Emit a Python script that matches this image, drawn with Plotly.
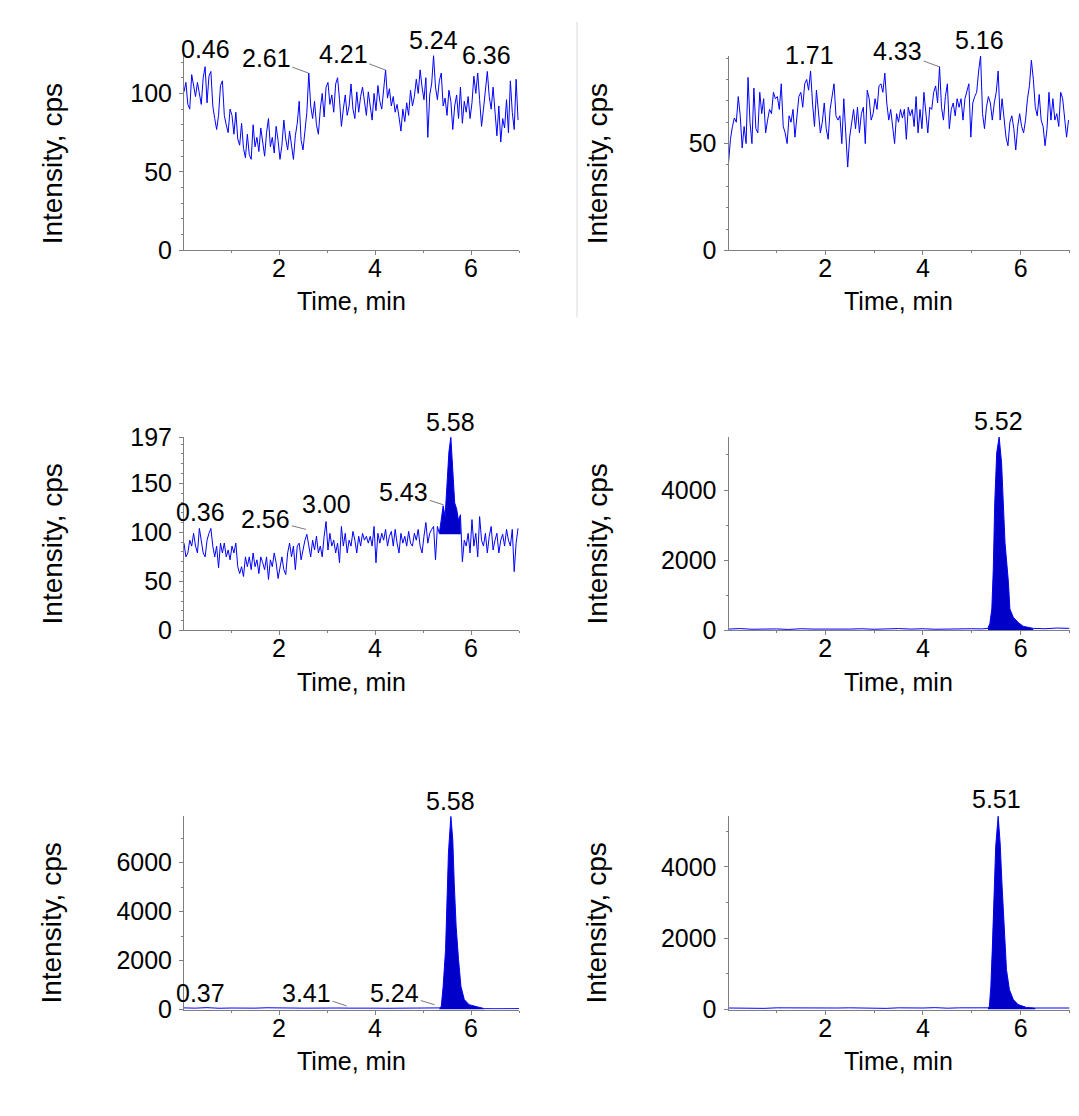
import plotly.graph_objects as go

FONT = "Liberation Sans, Arial, sans-serif"
LINE_BLUE = "#0000FF"
FILL_BLUE = "#0000C8"
AXIS_GRAY = "#808080"

# ---------------- data ----------------
# noisy traces sampled every 0.04 min starting at 0.02 min (10 values per row = 0.4 min)
T0 = 0.02
DT = 0.04

P1_INTENSITY = [
    101, 107, 93, 90, 112, 104, 98, 107, 99, 93,
    110, 117, 94, 111, 114, 92, 84, 77, 86, 105,
    108, 86, 80, 75, 90, 86, 74, 88, 71, 67,
    81, 65, 59, 74, 61, 58, 80, 66, 72, 63,
    78, 68, 60, 75, 84, 66, 72, 62, 79, 70,
    58, 67, 83, 71, 64, 76, 68, 58, 73, 81,
    95, 70, 64, 78, 88, 113, 92, 84, 95, 80,
    74, 90, 100, 85, 104, 107, 93, 99, 88, 106,
    110, 96, 79, 90, 99, 86, 92, 106, 90, 84,
    101, 88, 98, 104, 95, 86, 101, 92, 83, 100,
    89, 105, 95, 90, 101, 115, 97, 103, 92, 98,
    88, 93, 85, 76, 90, 82, 94, 86, 102, 92,
    98, 109, 100, 115, 104, 96, 110, 72, 99, 106,
    124, 104, 96, 108, 113, 92, 97, 86, 102, 95,
    77, 92, 99, 84, 104, 81, 95, 88, 98, 84,
    94, 111, 100, 113, 96, 79, 90, 103, 114, 98,
    90, 104, 85, 73, 92, 69, 84, 78, 96, 75,
    108, 88, 77, 109, 83,
]

P2_INTENSITY = [
    41, 52, 58, 62, 60, 72, 63, 48, 58, 50,
    81, 60, 50, 76, 57, 55, 74, 64, 71, 55,
    61, 66, 64, 74, 71, 72, 66, 78, 58, 55,
    50, 63, 60, 66, 53, 61, 72, 74, 67, 78,
    80, 75, 84, 69, 58, 75, 66, 55, 60, 69,
    57, 52, 66, 72, 78, 63, 61, 63, 50, 71,
    53, 39, 53, 61, 66, 57, 67, 55, 64, 67,
    50, 75, 71, 61, 64, 71, 66, 77, 78, 74,
    83, 69, 61, 66, 58, 50, 64, 60, 66, 62,
    66, 52, 67, 63, 66, 58, 72, 55, 66, 57,
    74, 63, 55, 67, 66, 74, 77, 69, 86, 67,
    61, 72, 78, 57, 66, 69, 63, 71, 67, 71,
    61, 71, 75, 78, 53, 69, 72, 74, 84, 91,
    64, 57, 67, 72, 69, 61, 69, 74, 84, 61,
    71, 63, 53, 49, 60, 63, 57, 47, 58, 64,
    58, 55, 61, 71, 77, 89, 80, 67, 63, 73,
    61, 58, 49, 57, 74, 61, 71, 61, 64, 58,
    74, 71, 61, 53, 61,
]

P3_INTENSITY = [
    89, 75, 79, 92, 86, 99, 86, 79, 104, 93,
    79, 75, 92, 99, 104, 86, 75, 86, 64, 89,
    79, 89, 75, 82, 72, 86, 79, 89, 65, 58,
    65, 55, 75, 65, 75, 62, 79, 65, 72, 58,
    75, 69, 62, 75, 52, 72, 65, 79, 69, 53,
    65, 75, 62, 57, 79, 89, 75, 86, 62, 86,
    89, 72, 82, 92, 98, 86, 75, 92, 82, 96,
    79, 86, 75, 96, 111, 82, 99, 86, 92, 79,
    89, 69, 106, 86, 99, 79, 92, 86, 101, 92,
    79, 96, 86, 99, 92, 96, 89, 96, 86, 106,
    69, 99, 89, 99, 92, 103, 86, 96, 101, 86,
    103, 89, 79, 99, 89, 96, 86, 101, 89, 86,
    99, 92, 103, 86, 79, 96, 110, 89, 99, 103,
    106, 72, 106, 99, 112, 127, 116, 150, 182, 197,
    165, 130, 124, 112, 118, 70, 92, 86, 99, 79,
    113, 86, 99, 75, 116, 92, 86, 99, 79, 96,
    106, 82, 92, 99, 79, 92, 98, 86, 103, 92,
    86, 103, 60, 89, 104,
]
P3_PEAK_START = 5.34
P3_PEAK_END = 5.79
P3_PEAK_BASE = 98

# peak chromatograms (explicit time / intensity)
P4_TIME = [0.02, 0.25, 0.5, 0.75, 1.0, 1.25, 1.5, 1.75, 2.0, 2.25, 2.5, 2.75, 3.0,
           3.25, 3.5, 3.75, 4.0, 4.25, 4.5, 4.75, 5.0, 5.2, 5.33, 5.37, 5.41, 5.44,
           5.47, 5.51, 5.56, 5.61, 5.64, 5.68, 5.75, 5.78, 5.85, 5.95, 6.05, 6.26,
           6.5, 6.75, 7.0]
P4_INTENSITY = [40, 55, 35, 50, 45, 30, 50, 40, 35, 45, 40, 50, 35,
                45, 55, 40, 50, 35, 45, 40, 50, 45, 60, 200, 610, 1745,
                3640, 5060, 5510, 4770, 3730, 2500, 1370, 610, 375, 230, 120, 60,
                50, 70, 60]

P5_TIME = [0.02, 0.25, 0.5, 0.75, 1.0, 1.25, 1.5, 1.75, 2.0, 2.25, 2.5, 2.75, 3.0,
           3.25, 3.5, 3.75, 4.0, 4.25, 4.5, 4.75, 5.0, 5.2, 5.34, 5.38, 5.42, 5.47,
           5.50, 5.53, 5.58, 5.62, 5.65, 5.69, 5.74, 5.79, 5.86, 5.96, 6.14, 6.28,
           6.5, 6.75, 7.0]
P5_INTENSITY = [70, 60, 80, 55, 65, 50, 60, 75, 55, 65, 60, 70, 55,
                65, 60, 70, 60, 55, 65, 60, 70, 65, 70, 120, 950, 2450,
                4490, 6400, 7890, 6940, 5170, 3400, 2040, 950, 410, 200, 110, 40,
                35, 45, 40]

P6_TIME = [0.02, 0.25, 0.5, 0.75, 1.0, 1.25, 1.5, 1.75, 2.0, 2.25, 2.5, 2.75, 3.0,
           3.25, 3.5, 3.75, 4.0, 4.25, 4.5, 4.75, 5.0, 5.2, 5.33, 5.36, 5.39, 5.42,
           5.45, 5.49, 5.54, 5.58, 5.62, 5.66, 5.71, 5.77, 5.85, 5.95, 6.12, 6.3,
           6.5, 6.75, 7.0]
P6_INTENSITY = [45, 40, 55, 35, 50, 45, 40, 50, 35, 45, 50, 40, 45,
                35, 50, 40, 45, 55, 40, 50, 45, 40, 50, 90, 650, 1680,
                3080, 4580, 5420, 4670, 3460, 2240, 1120, 560, 280, 140, 60, 45,
                40, 50, 45]
PEAK_START = 5.3
PEAK_END = 6.3

# peak labels
P1_LABEL_TEXT = ["0.46", "2.61", "4.21", "5.24", "6.36"]
P1_LABEL_TIME = [0.46, 2.61, 4.21, 5.24, 6.36]
P1_LABEL_INT = [117, 113, 115, 124, 114]
P2_LABEL_TEXT = ["1.71", "4.33", "5.16"]
P2_LABEL_TIME = [1.71, 4.33, 5.16]
P2_LABEL_INT = [84, 86, 91]
P3_LABEL_TEXT = ["0.36", "2.56", "3.00", "5.43", "5.58"]
P3_LABEL_TIME = [0.36, 2.56, 3.00, 5.43, 5.58]
P3_LABEL_INT = [104, 103, 111, 128, 197]
P4_LABEL_TEXT = ["5.52"]
P4_LABEL_TIME = [5.52]
P4_LABEL_INT = [5510]
P5_LABEL_TEXT = ["0.37", "3.41", "5.24", "5.58"]
P5_LABEL_TIME = [0.37, 3.41, 5.24, 5.58]
P5_LABEL_INT = [60, 150, 200, 7890]
P6_LABEL_TEXT = ["5.51"]
P6_LABEL_TIME = [5.51]
P6_LABEL_INT = [5420]

X_TICKS = [2, 4, 6]
X_MINOR = [1, 3, 5, 7]

# ---------------- styling / layout ----------------
# label placement: ("up", xshift, yshift) or ("lead", ax, ay) in target pixels
P1_LABEL_POS = [("up", 0, 17), ("lead", -42, -15), ("lead", -42, -15.5), ("up", -1.5, 15.5), ("up", -2, 16)]
P2_LABEL_POS = [("up", -1.5, 16), ("lead", -41.5, -15), ("up", -0.5, 16)]
P3_LABEL_POS = [("up", 0.5, 16), ("lead", -40, -10), ("up", -0.5, 17), ("lead", -40, -12.5), ("up", 0, 15)]
P4_LABEL_POS = [("up", 1.7, 15.6)]
P5_LABEL_POS = [("up", -0.4, 15.2), ("lead", -40, -13), ("lead", -39.8, -11.8), ("up", 0, 14.7)]
P6_LABEL_POS = [("up", 0, 16.4)]

# observed placement of the figure inside the photographed window
PAGE_DX, PAGE_DY, PAGE_SY = 8, 22.7, 0.974
W, H = 1063, 1090


def px_x(x):
    return (x - PAGE_DX) / W


def px_y(y):
    return 1 - ((y - PAGE_DY) / PAGE_SY) / H


COL_X = [(px_x(184), px_x(519)), (px_x(728.5), px_x(1069.5))]


def ydom(bottom_px, top_px):
    return [px_y(bottom_px), px_y(top_px)]


def grid_times(vals):
    return [round(T0 + DT * i, 4) for i in range(len(vals))]


panels = [
    dict(t=grid_times(P1_INTENSITY), v=P1_INTENSITY, col=0, ydomain=ydom(251, 53.3),
         yrange=[0, 126], ytickvals=[0, 50, 100], yminor=10,
         labels=(P1_LABEL_TEXT, P1_LABEL_TIME, P1_LABEL_INT, P1_LABEL_POS), fill=None),
    dict(t=grid_times(P2_INTENSITY), v=P2_INTENSITY, col=1, ydomain=ydom(251, 56.7),
         yrange=[0, 91], ytickvals=[0, 50], yminor=10,
         labels=(P2_LABEL_TEXT, P2_LABEL_TIME, P2_LABEL_INT, P2_LABEL_POS), fill=None),
    dict(t=grid_times(P3_INTENSITY), v=P3_INTENSITY, col=0, ydomain=ydom(631, 437.7),
         yrange=[0, 197], ytickvals=[0, 50, 100, 150, 197], yminor=10,
         labels=(P3_LABEL_TEXT, P3_LABEL_TIME, P3_LABEL_INT, P3_LABEL_POS), fill="base"),
    dict(t=P4_TIME, v=P4_INTENSITY, col=1, ydomain=ydom(631, 437.3),
         yrange=[0, 5520], ytickvals=[0, 2000, 4000], yminor=1000,
         labels=(P4_LABEL_TEXT, P4_LABEL_TIME, P4_LABEL_INT, P4_LABEL_POS), fill="zero"),
    dict(t=P5_TIME, v=P5_INTENSITY, col=0, ydomain=ydom(1010, 816.7),
         yrange=[0, 7890], ytickvals=[0, 2000, 4000, 6000], yminor=1000,
         labels=(P5_LABEL_TEXT, P5_LABEL_TIME, P5_LABEL_INT, P5_LABEL_POS), fill="zero"),
    dict(t=P6_TIME, v=P6_INTENSITY, col=1, ydomain=ydom(1010, 816),
         yrange=[0, 5440], ytickvals=[0, 2000, 4000], yminor=1000,
         labels=(P6_LABEL_TEXT, P6_LABEL_TIME, P6_LABEL_INT, P6_LABEL_POS), fill="zero"),
]

fig = go.Figure()
layout = dict(
    width=W, height=H, autosize=False,
    margin=dict(l=0, r=0, t=0, b=0, pad=0),
    paper_bgcolor="white", plot_bgcolor="white",
    showlegend=False,
    font=dict(family=FONT, size=25, color="black"),
)
annotations = []

tickfont = dict(family=FONT, size=25, color="black")

for k, p in enumerate(panels, start=1):
    xref = "x" if k == 1 else f"x{k}"
    yref = "y" if k == 1 else f"y{k}"
    t, v = p["t"], p["v"]

    if p["fill"] == "zero":
        ft = [ti for ti in t if PEAK_START <= ti <= PEAK_END]
        fv = [vi for ti, vi in zip(t, v) if PEAK_START <= ti <= PEAK_END]
        fig.add_trace(go.Scatter(x=ft, y=fv, mode="lines", fill="tozeroy",
                                 fillcolor=FILL_BLUE, line=dict(width=0, color=FILL_BLUE),
                                 xaxis=xref, yaxis=yref, hoverinfo="skip"))
    elif p["fill"] == "base":
        seg_t = [ti for ti in t if P3_PEAK_START <= ti <= P3_PEAK_END]
        seg_v = [vi for ti, vi in zip(t, v) if P3_PEAK_START <= ti <= P3_PEAK_END]
        fx = [P3_PEAK_START] + seg_t + [P3_PEAK_END]
        fy = [P3_PEAK_BASE] + seg_v + [P3_PEAK_BASE]
        fig.add_trace(go.Scatter(x=fx, y=fy, mode="lines", fill="toself",
                                 fillcolor=FILL_BLUE, line=dict(width=0, color=FILL_BLUE),
                                 xaxis=xref, yaxis=yref, hoverinfo="skip"))

    fig.add_trace(go.Scatter(x=t, y=v, mode="lines",
                             line=dict(color=LINE_BLUE, width=1),
                             xaxis=xref, yaxis=yref))

    x0, x1 = COL_X[p["col"]]
    ymin_minor = list(range(0, int(p["yrange"][1]) + 1, p["yminor"]))
    layout[f"xaxis{k}"] = dict(
        domain=[x0, x1], range=[0.02, 7.0], anchor=yref,
        showline=True, linecolor=AXIS_GRAY, linewidth=1,
        ticks="outside", ticklen=4, tickwidth=1, tickcolor=AXIS_GRAY,
        tickvals=X_TICKS, tickfont=tickfont, ticklabelstandoff=-8,
        minor=dict(tickvals=X_MINOR, ticks="outside", ticklen=2, tickwidth=1,
                   tickcolor=AXIS_GRAY, showgrid=False),
        showgrid=False, zeroline=False, fixedrange=True,
    )
    layout[f"yaxis{k}"] = dict(
        domain=p["ydomain"], range=p["yrange"], anchor=xref,
        showline=True, linecolor=AXIS_GRAY, linewidth=1,
        ticks="outside", ticklen=4, tickwidth=1, tickcolor=AXIS_GRAY,
        tickvals=p["ytickvals"], tickfont=tickfont, ticklabelstandoff=2,
        minor=dict(tickvals=ymin_minor, ticks="outside", ticklen=2, tickwidth=1,
                   tickcolor=AXIS_GRAY, showgrid=False),
        showgrid=False, zeroline=False, fixedrange=True,
    )

    texts, times, ints, poss = p["labels"]
    for txt, tt, ii, pos in zip(texts, times, ints, poss):
        mode, a, b = pos
        if mode == "up":
            annotations.append(dict(x=tt, y=ii, xref=xref, yref=yref, text=txt,
                                    showarrow=False, xanchor="center", yanchor="middle",
                                    xshift=a, yshift=b / PAGE_SY,
                                    font=dict(family=FONT, size=25, color="black")))
        else:
            annotations.append(dict(x=tt, y=ii, xref=xref, yref=yref, text=txt,
                                    showarrow=True, arrowhead=0, arrowwidth=0.7,
                                    arrowcolor="#404040", ax=a, ay=b / PAGE_SY, standoff=0,
                                    font=dict(family=FONT, size=25, color="black")))

# axis titles
ROW_AXIS_BOTTOM = [251, 631, 1010]
for r, bottom in enumerate(ROW_AXIS_BOTTOM):
    for c in range(2):
        x0, x1 = COL_X[c]
        annotations.append(dict(x=(x0 + x1) / 2, y=px_y(bottom + 51), xref="paper", yref="paper",
                                text="Time, min", showarrow=False, xanchor="center", yanchor="middle",
                                font=dict(family=FONT, size=25, color="black")))
        annotations.append(dict(x=px_x(52 if c == 0 else 597), y=px_y(bottom - 86),
                                xref="paper", yref="paper", text="Intensity, cps", textangle=-90,
                                showarrow=False, xanchor="center", yanchor="middle",
                                font=dict(family=FONT, size=28, color="black")))

layout["annotations"] = annotations
layout["shapes"] = [dict(type="line", xref="paper", yref="paper",
                         x0=px_x(577), x1=px_x(577), y0=1, y1=px_y(318),
                         line=dict(color="#d9d9d9", width=1))]

fig.update_layout(**layout)
fig.write_html("out.html")
